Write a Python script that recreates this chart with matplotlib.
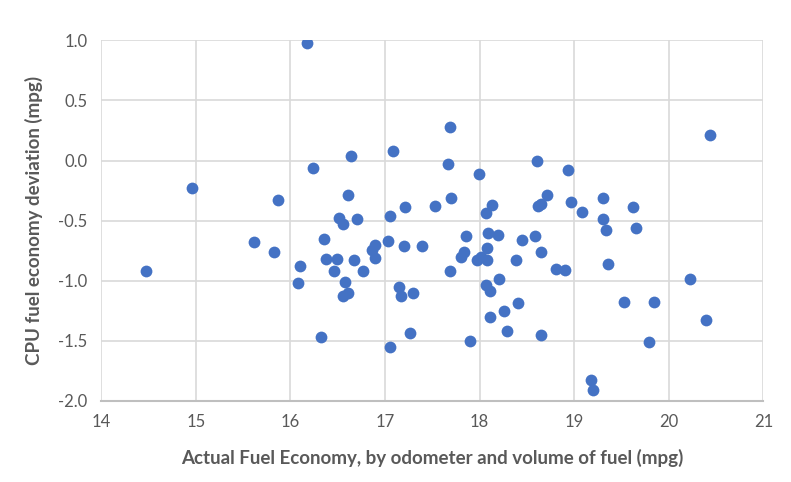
import matplotlib.pyplot as plt
from matplotlib.ticker import FormatStrFormatter

# actual fuel economy (mpg) vs CPU deviation (mpg)
actual = [16.18, 16.235, 14.96, 15.87, 15.61, 15.83, 14.47, 16.10, 16.08, 16.35,
          16.38, 16.32, 16.64, 17.085, 17.69, 17.67, 17.995, 18.605, 16.61, 16.51,
          16.56, 16.70, 17.05, 17.21, 17.53, 17.70, 18.07, 18.13, 18.62, 18.65,
          18.71, 16.49, 16.46, 16.67, 16.77, 16.58, 16.61, 16.56, 16.86, 16.89,
          16.89, 17.03, 17.20, 17.39, 17.145, 17.17, 17.30, 17.05, 17.26, 17.69,
          17.86, 17.84, 17.80, 17.97, 18.02, 18.08, 18.08, 18.09, 18.19, 17.90,
          18.07, 18.11, 18.21, 18.11, 18.26, 18.29, 18.41, 18.39, 18.45, 18.59,
          18.65, 18.65, 20.44, 18.93, 18.965, 19.08, 19.30, 19.31, 19.34, 19.62,
          19.65, 18.81, 18.905, 19.36, 20.23, 19.53, 19.84, 20.39, 19.79, 19.18,
          19.20]
deviation = [0.98, -0.06, -0.23, -0.33, -0.675, -0.76, -0.92, -0.88, -1.02, -0.65,
             -0.82, -1.47, 0.04, 0.083, 0.283, -0.025, -0.11, 0.0, -0.29, -0.48,
             -0.53, -0.49, -0.46, -0.39, -0.38, -0.31, -0.44, -0.37, -0.38, -0.36,
             -0.29, -0.82, -0.92, -0.825, -0.92, -1.01, -1.10, -1.13, -0.745, -0.70,
             -0.81, -0.67, -0.71, -0.71, -1.05, -1.13, -1.10, -1.55, -1.44, -0.92,
             -0.63, -0.76, -0.80, -0.83, -0.80, -0.83, -0.73, -0.605, -0.62, -1.50,
             -1.04, -1.09, -0.99, -1.30, -1.25, -1.42, -1.19, -0.825, -0.66, -0.625,
             -0.76, -1.455, 0.214, -0.083, -0.345, -0.425, -0.31, -0.49, -0.58, -0.39,
             -0.56, -0.90, -0.91, -0.86, -0.99, -1.18, -1.18, -1.325, -1.515, -1.83,
             -1.91]

x_ticks = [14, 15, 16, 17, 18, 19, 20, 21]
y_ticks = [1.0, 0.5, 0.0, -0.5, -1.0, -1.5, -2.0]

plt.rcParams['font.family'] = ['Lato', 'DejaVu Sans']
text_col = '#595959'

fig = plt.figure(figsize=(7.91, 4.82), dpi=100)
ax = fig.add_axes([0.128, 0.169, 0.837, 0.747])

ax.scatter(actual, deviation, s=72, color='#4472C4', zorder=3, linewidths=0)

ax.set_xlim(14, 21)
ax.set_ylim(-2.0, 1.0)
ax.set_xticks(x_ticks)
ax.set_yticks(y_ticks)
ax.yaxis.set_major_formatter(FormatStrFormatter('%.1f'))

# light excel-style grid
ax.grid(True, color='#D9D9D9', linewidth=1.2, zorder=0)
for s in ['top', 'right', 'left']:
    ax.spines[s].set_visible(False)
ax.spines['bottom'].set_color('#BFBFBF')
ax.spines['bottom'].set_linewidth(1.5)
ax.tick_params(length=0, labelsize=12, labelcolor=text_col, pad=10)

ax.set_xlabel('Actual Fuel Economy, by odometer and volume of fuel (mpg)',
              fontsize=13.5, fontweight='bold', color=text_col, labelpad=13)
ax.set_ylabel('CPU fuel economy deviation (mpg)',
              fontsize=13.5, fontweight='bold', color=text_col, labelpad=11)

plt.savefig('out.png', dpi=100)
